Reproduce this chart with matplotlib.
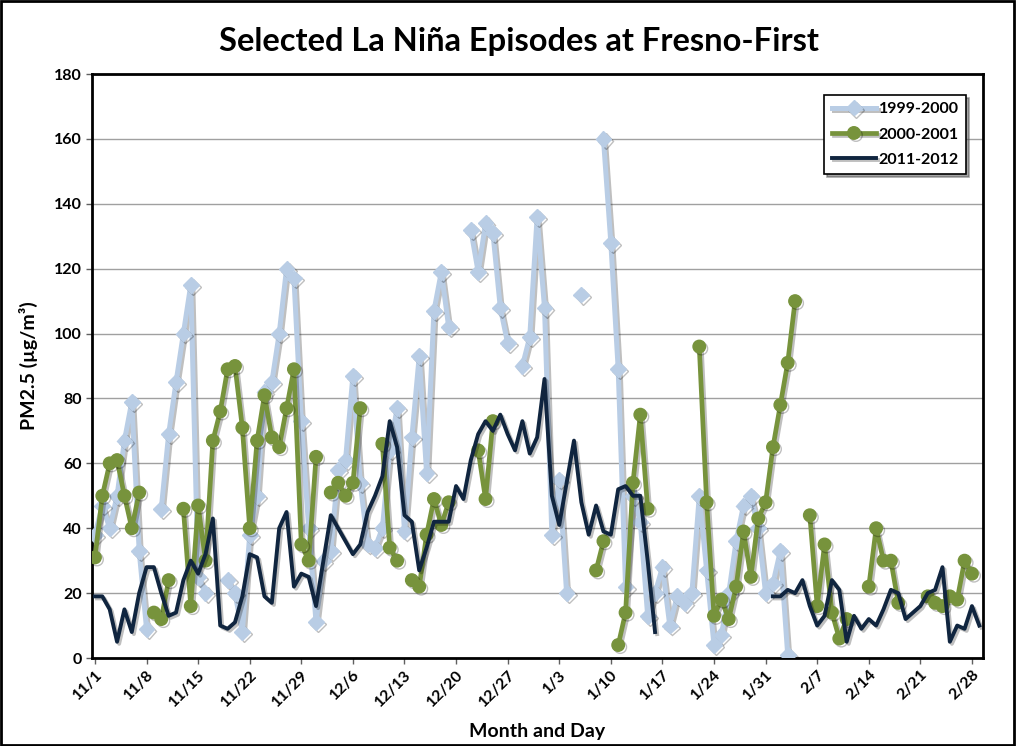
import numpy as np
import matplotlib
matplotlib.use("Agg")
import matplotlib.pyplot as plt
import matplotlib.patheffects as pe
from matplotlib.patches import Rectangle

nan = np.nan

# day index 0 = Nov 1
tick_days = list(range(0, 120, 7))
tick_labels = ["11/1", "11/8", "11/15", "11/22", "11/29", "12/6", "12/13", "12/20",
               "12/27", "1/3", "1/10", "1/17", "1/24", "1/31", "2/7", "2/14",
               "2/21", "2/28"]

s1999 = [38, 47, 40, 50, 67, 79, 33, 9, nan, 46,
         69, 85, 100, 115, 25, 20, nan, nan, 24, 20,
         8, 38, 50, 82, 85, 100, 120, 117, 73, 40,
         11, 30, 33, 58, 61, 87, 54, 35, 34, 40,
         64, 77, 39, 68, 93, 57, 107, 119, 102, nan,
         nan, 132, 119, 134, 131, 108, 97, nan, 90, 99,
         136, 108, 38, 55, 20, nan, 112, nan, nan, 160,
         128, 89, 22, 50, 42, 13, 20, 28, 10, 19,
         17, 20, 50, 27, 4, 7, 20, 36, 47, 50,
         40, 20, 23, 33, 1, nan, nan, nan, nan, nan,
         nan, nan, nan, nan, nan, nan, nan, nan, nan, nan,
         nan, nan, nan, nan, nan, nan, nan, nan, nan, nan,
         nan]

s2000 = [31, 50, 60, 61, 50, 40, 51, nan, 14, 12,
         24, nan, 46, 16, 47, 30, 67, 76, 89, 90,
         71, 40, 67, 81, 68, 65, 77, 89, 35, 30,
         62, nan, 51, 54, 50, 54, 77, nan, nan, 66,
         34, 30, nan, 24, 22, 38, 49, 41, 48, nan,
         nan, nan, 64, 49, 73, nan, nan, nan, nan, nan,
         nan, nan, nan, nan, nan, nan, nan, nan, 27, 36,
         nan, 4, 14, 54, 75, 46, nan, nan, nan, nan,
         nan, nan, 96, 48, 13, 18, 12, 22, 39, 25,
         43, 48, 65, 78, 91, 110, nan, 44, 16, 35,
         14, 6, 12, nan, nan, 22, 40, 30, 30, 17,
         nan, nan, nan, 19, 17, 16, 19, 18, 30, 26,
         nan]

s2011 = [19, 19, 15, 5, 15, 8, 20, 28, 28, 20,
         13, 14, 24, 30, 26, 32, 43, 10, 9, 11,
         19, 32, 31, 19, 17, 40, 45, 22, 26, 25,
         16, 30, 44, 40, 36, 32, 35, 45, 50, 56,
         73, 65, 44, 42, 27, 34, 42, 42, 42, 53,
         49, 61, 69, 73, 70, 75, 69, 64, 73, 63,
         68, 86, 50, 41, 54, 67, 48, 38, 47, 39,
         38, 52, 53, 50, 50, 30, 8, nan, nan, nan,
         nan, nan, nan, nan, nan, nan, nan, nan, nan, nan,
         nan, nan, 19, 19, 21, 20, 24, 16, 10, 13,
         24, 21, 5, 13, 9, 12, 10, 15, 21, 20,
         12, 14, 16, 20, 21, 28, 5, 10, 9, 16,
         10]

days = np.arange(len(s2011))

fig = plt.figure(figsize=(10.16, 7.46), dpi=100)
plt.rcParams['font.family'] = ['Lato', 'DejaVu Sans']
ax = fig.add_axes([92 / 1016, 1 - 658 / 746, (983 - 92) / 1016, (658 - 74) / 746])

shadow = [pe.SimpleLineShadow(offset=(1.5, -1.5), alpha=0.25), pe.Normal()]

ax.plot(days, s1999, color="#B9CDE5", lw=3.6, marker="D", markersize=8,
        label="1999-2000", path_effects=shadow, zorder=3)
ax.plot(days, s2000, color="#77933C", lw=3.4, marker="o", markersize=9,
        label="2000-2001", path_effects=shadow, zorder=4)
ax.plot(days, s2011, color="#10253F", lw=2.8, label="2011-2012",
        path_effects=shadow, zorder=5)

ax.set_xlim(-0.4, 120.5)
ax.set_ylim(0, 180)
ax.set_yticks(range(0, 181, 20))
ax.set_xticks(tick_days)
ax.set_xticklabels(tick_labels, rotation=45, ha="right", rotation_mode="anchor",
                   fontweight="bold", fontsize=11.5)
for lab in ax.get_yticklabels():
    lab.set_fontweight("bold")
    lab.set_fontsize(11.5)
ax.grid(axis="y", color="#A0A0A0", lw=1)
ax.set_axisbelow(True)
for sp in ax.spines.values():
    sp.set_linewidth(2)
    sp.set_color("black")
ax.tick_params(axis="both", length=4, width=1, color="#606060")
ax.tick_params(axis="x", pad=3)

ax.set_ylabel("PM2.5 (\u00b5g/m\u00b3)", fontsize=14, fontweight="bold", labelpad=11)
ax.set_xlabel("Month and Day", fontsize=14, fontweight="bold", labelpad=10)
fig.text(519 / 1016, 1 - 42 / 746, "Selected La Ni\u00f1a Episodes at Fresno-First",
         ha="center", va="center", fontsize=23.5, fontweight="bold")

leg = ax.legend(loc="upper right", bbox_to_anchor=(0.99, 0.978), fancybox=False,
                shadow=True, edgecolor="black", fontsize=11.5, handlelength=2.8,
                borderpad=0.45, labelspacing=0.7, handletextpad=0.15)
leg.get_frame().set_linewidth(1.2)
for t in leg.get_texts():
    t.set_fontweight("bold")

fig.patches.append(Rectangle((0.001, 0.002), 0.997, 0.996, transform=fig.transFigure,
                             fill=False, edgecolor="black", lw=2))

fig.savefig("out.png", dpi=100)
